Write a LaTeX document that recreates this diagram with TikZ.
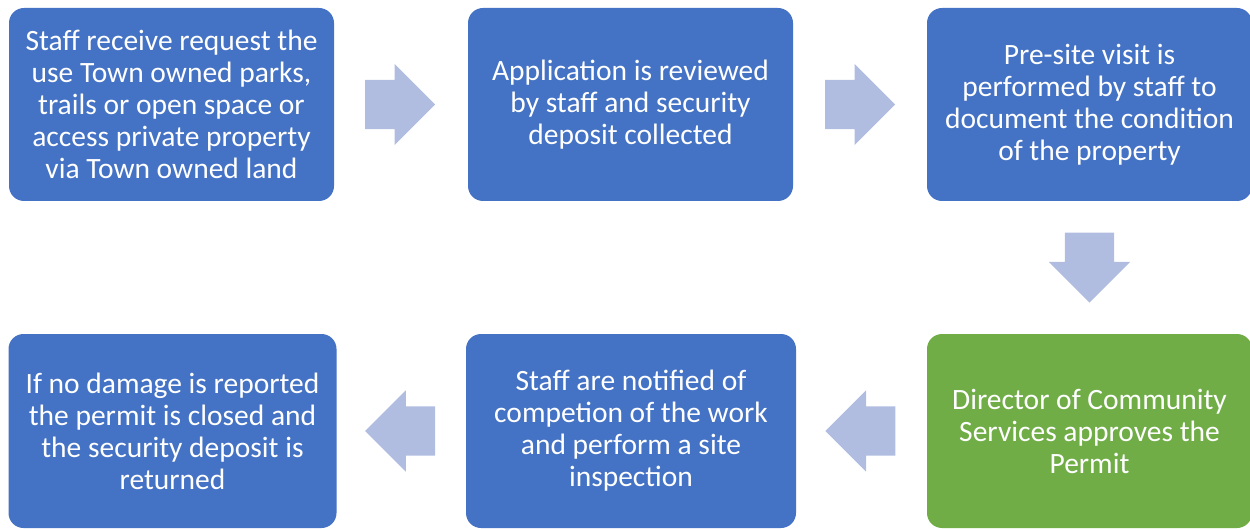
\documentclass[tikz,border=0pt]{standalone}
\usepackage{fontspec}
\setmainfont{Carlito}
\usetikzlibrary{shapes.arrows,calc}
\definecolor{stepblue}{HTML}{4472C4}
\definecolor{stepgreen}{HTML}{70AD47}
\definecolor{flowgrey}{HTML}{B0BDE0}

\begin{document}
\begin{tikzpicture}[x=1pt,y=1pt,
   box/.style={fill=stepblue,rounded corners=15pt,text=white,align=center,
               minimum width=325pt,minimum height=193pt,inner sep=0pt,
               font=\fontsize{29.5}{32}\selectfont},
   flow/.style={single arrow,fill=flowgrey,minimum height=70pt,anchor=tail,
                single arrow head extend=16pt,single arrow head indent=0pt,
                inner xsep=0pt,inner ysep=24.5pt}]
  \useasboundingbox (0,0) rectangle (1250,-529);
  \node[box] (req) at (171.5,-104.5)
       {Staff receive request the\\ use Town owned parks,\\ trails or open space or\\
        access private property\\ via Town owned land};
  \node[box] (rev) at (630.5,-104.5)
       {Application is reviewed\\ by staff and security\\ deposit collected};
  \node[box] (visit) at (1089.5,-104.5)
       {Pre-site visit is\\ performed by staff to\\ document the condition\\ of the property};
  \node[box,fill=stepgreen,minimum height=194pt] (dir) at (1089.5,-431)
       {Director of Community\\ Services approves the\\ Permit};
  \node[box,minimum width=330pt,minimum height=194pt] (insp) at (631,-431)
       {Staff are notified of\\ competion of the work\\ and perform a site\\ inspection};
  \node[box,minimum width=328pt,minimum height=194pt] (close) at (172.5,-431)
       {If no damage is reported\\ the permit is closed and\\ the security deposit is\\ returned};
  % block arrows between the steps
  \node[flow] (f1) at ($(req.east)!0.5!(rev.west)+(-36,0)$) {};
  \node[flow] (f2) at ($(rev.east)!0.5!(visit.west)+(-35,0)$) {};
  \node[flow,rotate=-90] (f3) at ($(visit.south)!0.5!(dir.north)+(0,35)$) {};
  \node[flow,rotate=180] (f4) at ($(dir.west)!0.5!(insp.east)+(34,0)$) {};
  \node[flow,rotate=180] (f5) at ($(insp.west)!0.5!(close.east)+(34,0)$) {};
\end{tikzpicture}
\end{document}
